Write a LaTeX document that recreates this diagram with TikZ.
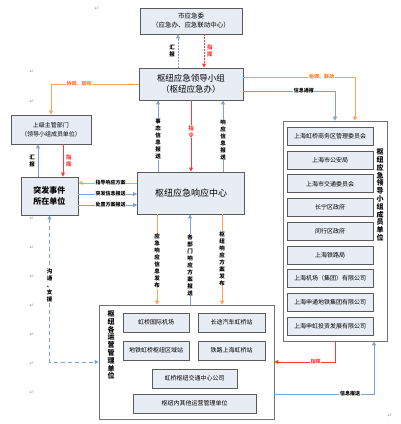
\documentclass[tikz,border=0pt]{standalone}
\usepackage{fontspec}
\setmainfont{Noto Sans CJK SC}
\newfontfamily\symfont{DejaVu Sans}
\usetikzlibrary{arrows.meta,calc}
\definecolor{boxgray}{HTML}{5A5A5A}
\definecolor{boxfill}{HTML}{E8ECF5}
\definecolor{lblue}{HTML}{7FA2D4}
\definecolor{lorange}{HTML}{FFA060}
\definecolor{lred}{HTML}{FF3838}
\definecolor{tor}{HTML}{FF7A20}
\tikzset{
  inbox/.style={draw=boxgray, line width=0.9pt, fill=boxfill, inner sep=0pt, align=center, font=\fontsize{6}{8}\selectfont},
  outbox/.style={draw=boxgray!85, line width=0.8pt, fill=white, inner sep=0pt},
  conn/.style={line width=0.9pt, -{Triangle[length=4pt,width=4pt]}},
  bconn/.style={conn, draw=lblue},
  oconn/.style={conn, draw=lorange},
  rconn/.style={conn, draw=lred},
  lbl/.style={fill=white, inner sep=0.6pt, font=\bfseries\fontsize{5}{6}\selectfont},
  vlbl/.style={fill=white, inner sep=0.6pt, align=center, font=\bfseries\fontsize{5.5}{7}\selectfont},
  vbig/.style={inner sep=0pt, align=center, font=\bfseries\fontsize{7}{7.8}\selectfont},
  pm/.style={text=gray!70, inner sep=0pt, font=\symfont\fontsize{6}{6}\selectfont}
}
\begin{document}
\begin{tikzpicture}[x=1pt,y=-1pt]
\useasboundingbox (0,0) rectangle (400,424);
\fill[white] (0,0) rectangle (400,424);

% paragraph marks
\foreach \px/\py [count=\k] in {97/9,32/72,32/102,32/219,32/248,32/277,32/306,32/335,32/364,32/393,390/416}
  \node[pm] (pm\k) at (\px,\py) {↵};

% main boxes
\node[inbox, minimum width=102pt, minimum height=26pt, font=\fontsize{6.5}{9}\selectfont] (shi) at (191,21) {市应急委\\（应急办、应急联动中心）};
\node[inbox, minimum width=104pt, minimum height=32pt, font=\fontsize{8.5}{11}\selectfont] (lead) at (191,84) {枢纽应急领导小组\\（枢纽应急办）};
\node[inbox, minimum width=80pt, minimum height=29pt, font=\fontsize{6}{9}\selectfont] (sup) at (51,129.5) {上级主管部门\\（领导小组成员单位）};
\node[inbox, minimum width=57pt, minimum height=38pt, font=\bfseries\fontsize{8}{11}\selectfont] (evt) at (49.5,196) {突发事件\\所在单位};
\node[inbox, minimum width=107pt, minimum height=42pt, font=\fontsize{9}{11}\selectfont] (ctr) at (191,193) {枢纽应急响应中心};

% right member box
\node[outbox, minimum width=104pt, minimum height=220pt] (rbox) at (335,231) {};
\foreach \t [count=\i] in {上海虹桥商务区管理委员会,上海市公安局,上海市交通委员会,长宁区政府,闵行区政府,上海铁路局,上海机场（集团）有限公司,上海申通地铁集团有限公司,上海申虹投资发展有限公司}
  \node[inbox, minimum width=86pt, minimum height=18pt] (r\i) at (330,{136.5+23.7*(\i-1)}) {\t};
\node[vbig] (rlbl) at (380,195) {枢\\纽\\应\\急\\领\\导\\小\\组\\成\\员\\单\\位};

% bottom operators box
\node[outbox, minimum width=175pt, minimum height=114pt] (bbox) at (186.5,362) {};
\node[inbox, minimum width=66pt, minimum height=19pt] (b1) at (156,322.5) {虹桥国际机场};
\node[inbox, minimum width=67pt, minimum height=19pt] (b2) at (231.5,322.5) {长途汽车虹桥站};
\node[inbox, minimum width=66pt, minimum height=19pt] (b3) at (156,350.5) {地铁虹桥枢纽区域站};
\node[inbox, minimum width=67pt, minimum height=19pt] (b4) at (231.5,350.5) {铁路上海虹桥站};
\node[inbox, minimum width=85pt, minimum height=19pt] (b5) at (194.5,378.5) {虹桥枢纽交通中心公司};
\node[inbox, minimum width=123pt, minimum height=19pt] (b6) at (194.5,403.5) {枢纽内其他运营管理单位};
\node[vbig] (blbl) at (111,345) {枢\\纽\\各\\运\\营\\管\\理\\单\\位};

% top: lead <-> city
\draw[bconn, dash pattern=on 1.5pt off 1.5pt] ([xshift=-13]lead.north) -- ([xshift=-13]shi.south)
  node[pos=0.5, left=2pt, vlbl, fill=none] (l1) {汇\\报};
\draw[rconn, dash pattern=on 1.5pt off 1.5pt] ([xshift=13]shi.south) -- ([xshift=13]lead.north)
  node[pos=0.5, right=2pt, vlbl, fill=none, text=lred] (l2) {指\\挥};

% lead -> superior / members
\draw[oconn] (lead.west) -| (sup.north) node[pos=0.34, lbl, text=tor] (l3) {协调、联动};
\draw[oconn] ([yshift=7]lead.east) -| ([xshift=20]rbox.north) node[pos=0.35, lbl, text=tor] (l4) {协调、联动};
\draw[bconn] ([yshift=-7]lead.east) -| (rbox.north) node[pos=0.33, lbl] (l5) {信息通报};

% lead <-> centre
\draw[bconn] ([xshift=-33]ctr.north) -- ([xshift=-33]ctr.north |- lead.south)
  node[pos=0.46, vlbl] (l6) {事\\态\\信\\息\\报\\送};
\draw[rconn] (lead.south) -- (ctr.north)
  node[pos=0.44, vlbl, text=lred] (l7) {指\\令};
\draw[bconn] ([xshift=32]ctr.north) -- ([xshift=32]ctr.north |- lead.south)
  node[pos=0.45, vlbl] (l8) {响\\应\\信\\息\\报\\送};

% superior <-> event unit
\draw[bconn] ([xshift=-13]sup.south |- evt.north) -- ([xshift=-13]sup.south)
  node[pos=0.5, left=2pt, vlbl, fill=none] (l9) {汇\\报};
\draw[rconn] ([xshift=12]sup.south) -- ([xshift=12]sup.south |- evt.north)
  node[pos=0.5, right=2pt, vlbl, fill=none, text=lred] (l10) {指\\挥};

% event unit <-> centre
\draw[oconn] ([yshift=13]evt.east -| ctr.west) -- ([yshift=13]evt.east)
  node[pos=0.45, lbl] (l11) {指导响应方案};
\draw[bconn] ([yshift=2]evt.east) -- ([yshift=2]evt.east -| ctr.west)
  node[pos=0.55, lbl] (l12) {突发信息报送};
\draw[bconn] ([yshift=-9]evt.east) -- ([yshift=-9]evt.east -| ctr.west)
  node[pos=0.55, lbl] (l13) {处置方案报送};

% centre <-> operators
\draw[oconn] ([xshift=-34]ctr.south) -- ([xshift=-34]ctr.south |- bbox.north)
  node[pos=0.52, vlbl] (l14) {应\\急\\响\\应\\信\\息\\发\\布};
\draw[bconn] ([xshift=-1]ctr.south |- bbox.north) -- ([xshift=-1]ctr.south)
  node[pos=0.44, vlbl] (l15) {各\\部\\门\\响\\应\\方\\案\\报\\送};
\draw[oconn] ([xshift=31]ctr.south) -- ([xshift=31]ctr.south |- bbox.north)
  node[pos=0.49, vlbl] (l16) {枢\\纽\\响\\应\\方\\案\\发\\布};

% event unit <-> operators (dashed)
\draw[draw=lblue, line width=1pt, dash pattern=on 4pt off 3pt,
      {Triangle[length=4pt,width=4pt]}-{Triangle[length=4pt,width=4pt]}]
  (evt.south) |- (bbox.west) node[pos=0.24, vlbl] (l17) {沟\\通\\、\\支\\援};

% members <-> operators
\draw[rconn] (rbox.south) |- (bbox.east) node[pos=0.66, lbl, text=lred] (l18) {指挥};
\draw[bconn] ([yshift=-32]bbox.east) -| ([xshift=39]rbox.south) node[pos=0.38, lbl] (l19) {信息报送};
\end{tikzpicture}
\end{document}
